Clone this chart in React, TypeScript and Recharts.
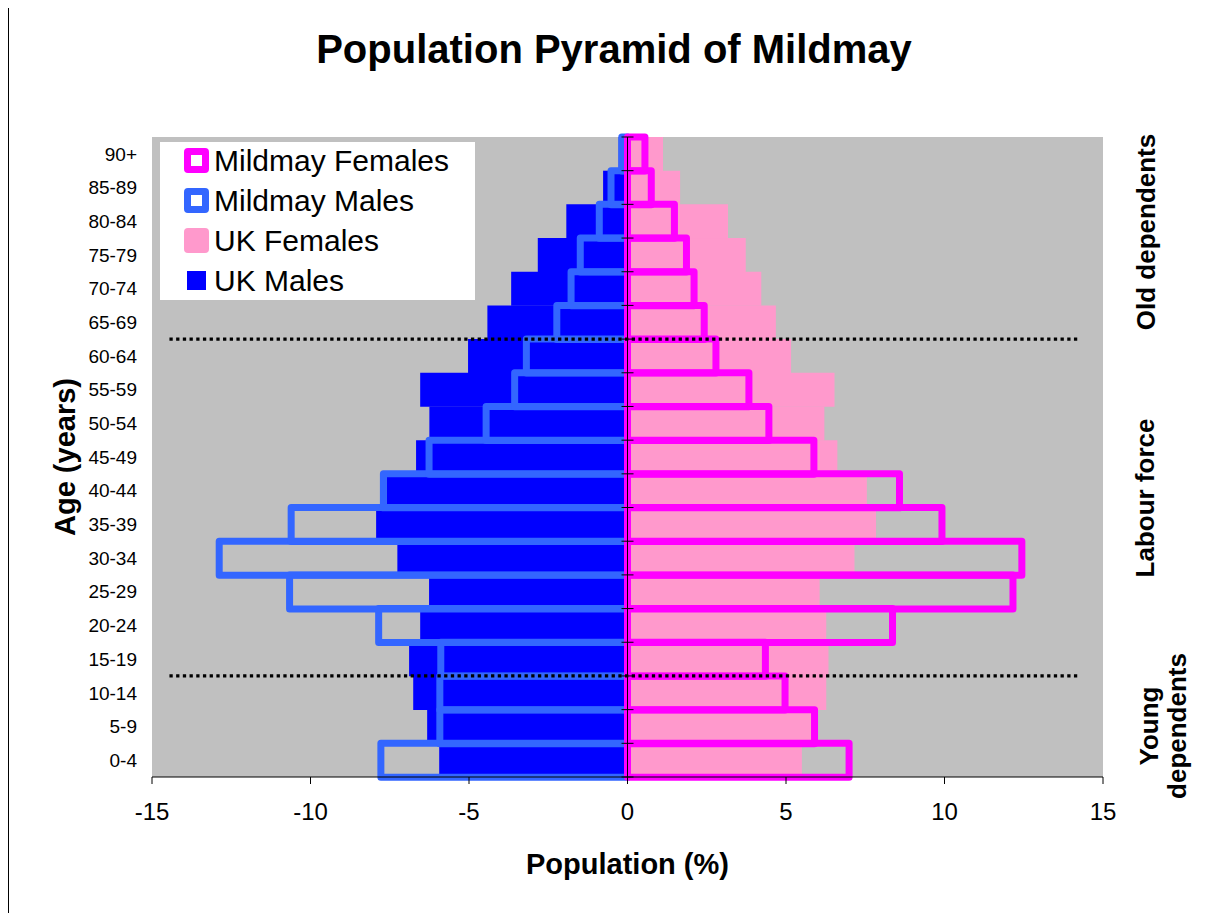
import React from 'react';
import { BarChart, Bar, XAxis, YAxis, CartesianGrid, ReferenceLine, Legend, Label } from 'recharts';

// ---------- data ----------
const AGE_GROUPS = ['0-4', '5-9', '10-14', '15-19', '20-24', '25-29', '30-34', '35-39', '40-44', '45-49', '50-54', '55-59', '60-64', '65-69', '70-74', '75-79', '80-84', '85-89', '90+'];
const UK_MALES = [-5.94, -6.32, -6.76, -6.89, -6.54, -6.26, -7.26, -7.93, -7.6, -6.67, -6.25, -6.54, -5.03, -4.42, -3.67, -2.83, -1.93, -0.77, -0.28];
const UK_FEMALES = [5.5, 5.8, 6.27, 6.34, 6.27, 6.06, 7.16, 7.84, 7.55, 6.62, 6.21, 6.53, 5.16, 4.68, 4.22, 3.73, 3.17, 1.66, 1.12];
const MILDMAY_MALES = [-7.78, -5.92, -5.92, -5.89, -7.85, -10.66, -12.88, -10.61, -7.7, -6.26, -4.46, -3.56, -3.19, -2.23, -1.78, -1.49, -0.89, -0.52, -0.18];
const MILDMAY_FEMALES = [6.99, 5.9, 4.97, 4.35, 8.36, 12.16, 12.44, 9.92, 8.58, 5.88, 4.46, 3.83, 2.79, 2.42, 2.1, 1.86, 1.48, 0.75, 0.55];
const X_TICKS = [-15, -10, -5, 0, 5, 10, 15];
const X_DOMAIN = [-15, 15];
// age groups whose lower edge carries a dotted divider
const DIVIDER_GROUPS = ['15-19', '65-69'];
const DIVIDER_SPAN = [-14.45, 14.2];
const SIDE_NOTES = [
  { lines: ['Old dependents'], key: 'old' },
  { lines: ['Labour force'], key: 'labour' },
  { lines: ['Young', 'dependents'], key: 'young' },
];

const LEGEND_ITEMS = [
  { name: 'Mildmay Females', kind: 'outline', color: '#FF00FF' },
  { name: 'Mildmay Males', kind: 'outline', color: '#3366FF' },
  { name: 'UK Females', kind: 'fill', color: '#FF99CC' },
  { name: 'UK Males', kind: 'small', color: '#0000FF' },
];

const data = AGE_GROUPS.map((age, i) => ({
  age,
  ukM: UK_MALES[i],
  ukF: UK_FEMALES[i],
  mmM: MILDMAY_MALES[i],
  mmF: MILDMAY_FEMALES[i],
}));

// ---------- layout ----------
const FONT = '"Liberation Sans", Arial, Helvetica, sans-serif';
const CHART_W = 1199;
const CHART_H = 905;
const PLOT_LEFT = 144;
const PLOT_TOP = 129;
const PLOT_W = 951;
const PLOT_H = 640;
const XAXIS_H = 60;
const HALF_BAND = PLOT_H / AGE_GROUPS.length / 2;

const AgeTick = (props: any) => {
  const { y, payload } = props;
  return (
    <text x={PLOT_LEFT - 15} y={y} dy="0.355em" textAnchor="end" fontSize={19} fontFamily={FONT} fill="#000">
      {payload.value}
    </text>
  );
};

const ValueTick = (props: any) => {
  const { x, y, payload } = props;
  return (
    <text x={x} y={y} dy={34} textAnchor="middle" fontSize={24} fontFamily={FONT} fill="#000">
      {payload.value}
    </text>
  );
};

const ZeroAxis = (props: any) => {
  const { x1, y1, y2 } = props;
  const top = Math.min(y1, y2);
  const bottom = Math.max(y1, y2);
  const step = (bottom - top) / AGE_GROUPS.length;
  return (
    <g>
      <line x1={x1} x2={x1} y1={top} y2={bottom} stroke="#000" strokeWidth={1} />
      {Array.from({ length: AGE_GROUPS.length + 1 }).map((_, i) => (
        <line key={i} x1={x1 - 6} x2={x1 + 6} y1={top + i * step} y2={top + i * step} stroke="#000" strokeWidth={1} />
      ))}
    </g>
  );
};

// dotted divider along the lower edge of an age band
const DividerLine = (props: any) => {
  const { x1, x2, y1 } = props;
  const y = y1 + HALF_BAND;
  return <line x1={x1} x2={x2} y1={y} y2={y} stroke="#000" strokeWidth={3.3} strokeDasharray="3.3 3.4" />;
};

const LegendBox = () => (
  <div style={{ width: 315, height: 158, background: '#fff', position: 'relative', fontFamily: FONT }}>
    {LEGEND_ITEMS.map((it, i) => {
      const center = 18.5 + i * 40;
      let icon;
      if (it.kind === 'outline') {
        icon = <div style={{ position: 'absolute', left: 24, top: center - 12.5, width: 25, height: 25, boxSizing: 'border-box', border: `7px solid ${it.color}`, borderRadius: 4, background: '#fff' }} />;
      } else if (it.kind === 'fill') {
        icon = <div style={{ position: 'absolute', left: 24, top: center - 12.5, width: 25, height: 25, borderRadius: 4, background: it.color }} />;
      } else {
        icon = <div style={{ position: 'absolute', left: 27, top: center - 9.5, width: 19, height: 19, background: it.color }} />;
      }
      return (
        <React.Fragment key={it.name}>
          {icon}
          <div style={{ position: 'absolute', left: 54, top: center - 20, height: 40, lineHeight: '40px', fontSize: 30, color: '#000', whiteSpace: 'nowrap' }}>
            {it.name}
          </div>
        </React.Fragment>
      );
    })}
  </div>
);

const sideNoteStyle = (cx: number, cy: number): React.CSSProperties => ({
  position: 'absolute',
  left: cx,
  top: cy,
  transform: 'translate(-50%, -50%) rotate(-90deg)',
  fontFamily: FONT,
  fontWeight: 'bold',
  fontSize: 26,
  lineHeight: '28px',
  textAlign: 'center',
  whiteSpace: 'nowrap',
  color: '#000',
});
const SIDE_POS: Record<string, [number, number]> = {
  old: [1138, 224],
  labour: [1137, 490],
  young: [1155, 718],
};

export default function App() {
  return (
    <div style={{ position: 'relative', width: CHART_W, height: CHART_H, background: '#fff' }}>
      <div style={{ position: 'absolute', left: 0, top: -9, width: 1200, height: 915, boxSizing: 'border-box', border: '1px solid #000', pointerEvents: 'none' }} />
      <div style={{ position: 'absolute', left: 0, top: 21, width: 1212, textAlign: 'center', fontFamily: FONT, fontWeight: 'bold', fontSize: 40, lineHeight: '40px', color: '#000' }}>
        Population Pyramid of Mildmay
      </div>
      {SIDE_NOTES.map((n) => (
        <div key={n.key} style={sideNoteStyle(SIDE_POS[n.key][0], SIDE_POS[n.key][1])}>
          {n.lines.map((l) => (
            <div key={l}>{l}</div>
          ))}
        </div>
      ))}
      <div style={{ position: 'absolute', left: 0, top: 0 }}>
        <BarChart
          width={CHART_W}
          height={CHART_H}
          data={data}
          layout="vertical"
          stackOffset="sign"
          barCategoryGap={0}
          barGap={0}
          margin={{ top: PLOT_TOP, left: 0, right: CHART_W - PLOT_LEFT - PLOT_W, bottom: CHART_H - PLOT_TOP - PLOT_H - XAXIS_H }}
        >
          <CartesianGrid yAxisId="uk" horizontal={false} vertical={false} fill="#C0C0C0" stroke="none" />
          <XAxis
            type="number"
            domain={X_DOMAIN}
            ticks={X_TICKS}
            height={XAXIS_H}
            tick={<ValueTick />}
            tickSize={7}
            tickLine={{ stroke: '#000' }}
            axisLine={{ stroke: '#000' }}
            interval={0}
          >
            <Label
              content={(p: any) => {
                const vb = p.viewBox || {};
                return (
                  <text x={vb.x + vb.width / 2} y={vb.y + 97} textAnchor="middle" fontFamily={FONT} fontWeight="bold" fontSize={29} fill="#000">
                    Population (%)
                  </text>
                );
              }}
            />
          </XAxis>
          <YAxis
            yAxisId="uk"
            type="category"
            dataKey="age"
            reversed
            width={PLOT_LEFT}
            axisLine={false}
            tickLine={false}
            tickSize={0}
            tickMargin={15}
            interval={0}
            tick={<AgeTick />}
          >
            <Label
              content={(p: any) => {
                const vb = p.viewBox || {};
                const cy = vb.y + vb.height / 2;
                return (
                  <text transform={`translate(57, ${cy}) rotate(-90)`} textAnchor="middle" dominantBaseline="central" fontFamily={FONT} fontWeight="bold" fontSize={29} fill="#000">
                    Age (years)
                  </text>
                );
              }}
            />
          </YAxis>
          <YAxis yAxisId="mm" type="category" dataKey="age" reversed hide />

          <Bar dataKey="ukM" name="UK Males" yAxisId="uk" stackId="uk" fill="#0000FF" isAnimationActive={false} />
          <Bar dataKey="ukF" name="UK Females" yAxisId="uk" stackId="uk" fill="#FF99CC" isAnimationActive={false} />
          <Bar dataKey="mmM" name="Mildmay Males" yAxisId="mm" stackId="mm" fill="none" stroke="#3366FF" strokeWidth={7} strokeLinejoin="round" isAnimationActive={false} />
          <Bar dataKey="mmF" name="Mildmay Females" yAxisId="mm" stackId="mm" fill="none" stroke="#FF00FF" strokeWidth={7} strokeLinejoin="round" isAnimationActive={false} />

          {DIVIDER_GROUPS.map((g) => (
            <ReferenceLine
              key={g}
              yAxisId="uk"
              segment={[
                { x: DIVIDER_SPAN[0], y: g },
                { x: DIVIDER_SPAN[1], y: g },
              ]}
              shape={<DividerLine />}
              zIndex={700}
            />
          ))}
          <ReferenceLine yAxisId="uk" x={0} shape={<ZeroAxis />} zIndex={700} />

          <Legend
            layout="horizontal"
            verticalAlign="middle"
            align="center"
            content={() => <LegendBox />}
            wrapperStyle={{ position: 'absolute', left: 152, top: 134, width: 315, height: 158, margin: 0, padding: 0 }}
          />
        </BarChart>
      </div>
    </div>
  );
}
